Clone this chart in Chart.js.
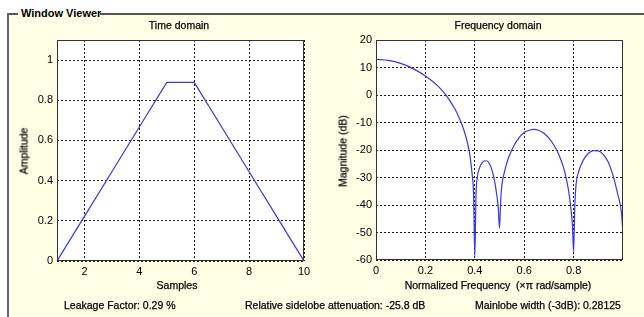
<!DOCTYPE html>
<html>
<head>
<meta charset="utf-8">
<script src="https://cdn.jsdelivr.net/npm/chart.js@4/dist/chart.umd.min.js"></script>
<style>
  html, body { margin: 0; padding: 0; background: #ffffff; }
  body { width: 644px; height: 317px; position: relative; overflow: hidden;
         font-family: "Liberation Sans", Arial, Helvetica, sans-serif; color: #000; }
  #panel { position: absolute; left: 8px; top: 14px; width: 636px; height: 303px; background: #FFFFE6; }
  .hl { position: absolute; background: #555; height: 2px; }
  .vl { position: absolute; background: #666; width: 2px; }
  .t { position: absolute; white-space: pre; font-size: 10.5px; line-height: 13px; -webkit-text-stroke: 0.25px #000; }
  .c { transform: translateX(-50%); }
  .rot { transform: translate(-50%, -50%) rotate(-90deg); }
  canvas { position: absolute; }
</style>
</head>
<body>
<div id="panel"></div>
<div class="hl" style="left:8px; top:13px; width:10px;"></div>
<div class="hl" style="left:100px; top:13px; width:544px;"></div>
<div class="vl" style="left:7px; top:13px; height:304px;"></div>
<div class="t" style="left:21px; top:7px; font-size:11px; font-weight:bold; -webkit-text-stroke:0;">Window Viewer</div>

<canvas id="timeChart" width="320" height="300" style="left:0; top:0;"></canvas>
<canvas id="freqChart" width="324" height="300" style="left:320px; top:0;"></canvas>

<div class="t c" style="left:179px; top:19px;">Time domain</div>
<div class="t c" style="left:498px; top:19px;">Frequency domain</div>
<div class="t c" style="left:177px; top:279px;">Samples</div>
<div class="t c" style="left:498px; top:279px;">Normalized Frequency  (×π rad/sample)</div>
<div class="t rot" style="left:24px; top:151px;">Amplitude</div>
<div class="t rot" style="left:343px; top:151px;">Magnitude (dB)</div>
<div class="t" style="left:64px; top:299px;">Leakage Factor: 0.29 %</div>
<div class="t" style="left:245px; top:299px;">Relative sidelobe attenuation: -25.8 dB</div>
<div class="t" style="left:475px; top:299px;">Mainlobe width (-3dB): 0.28125</div>

<script>
// ---- Data ----
const samples = [1, 2, 3, 4, 5, 6, 7, 8, 9, 10];
const amplitude = [0, 0.222, 0.444, 0.667, 0.889, 0.889, 0.667, 0.444, 0.222, 0];
const timeXTicks = [2, 4, 6, 8, 10];
const timeYTicks = [0, 0.2, 0.4, 0.6, 0.8, 1];

const normFreq = [0, 0.05, 0.1, 0.15, 0.2, 0.25, 0.28, 0.3, 0.32, 0.34, 0.35, 0.36, 0.37, 0.38, 0.39, 0.395, 0.4,
  0.405, 0.41, 0.42, 0.43, 0.44, 0.45, 0.46, 0.47, 0.48, 0.49, 0.495, 0.5,
  0.505, 0.51, 0.52, 0.53, 0.54, 0.56, 0.58, 0.6, 0.62, 0.64, 0.66, 0.68, 0.7, 0.72, 0.74, 0.76, 0.77, 0.78, 0.79, 0.795, 0.8,
  0.805, 0.81, 0.82, 0.83, 0.84, 0.86, 0.88, 0.9, 0.92, 0.94, 0.96, 0.98, 0.99, 0.995, 1.0];
const magnitudeDb = [13.0, 12.6, 11.5, 9.6, 6.9, 3.3, 0.3, -2.2, -5.2, -9.0, -11.3, -14.0, -17.3, -21.8, -29.5, -36, -59,
  -36, -30, -26.3, -24.6, -23.9, -24.0, -25.2, -27.4, -31.2, -37.0, -41, -48.5,
  -38, -32.5, -28.0, -24.6, -22.0, -18.2, -15.4, -13.6, -12.8, -12.5, -12.9, -13.9, -15.7, -18.2, -21.6, -26.6, -30.2, -35.0, -42.0, -47, -57,
  -40, -32.5, -28.0, -25.5, -23.6, -21.2, -20.2, -20.3, -21.6, -24.4, -29.3, -36.5, -40.5, -44, -51];
const freqXTicks = [0, 0.2, 0.4, 0.6, 0.8];
const freqYTicks = [-60, -50, -40, -30, -20, -10, 0, 10, 20];

// ---- Helpers ----
const FONT = { family: '"Liberation Sans", Arial, Helvetica, sans-serif', size: 11 };
const LINE_COLOR = '#3535f5';

const boxPlugin = {
  id: 'box',
  beforeDraw(chart) {
    const a = chart.chartArea, ctx = chart.ctx;
    ctx.save();
    ctx.fillStyle = '#ffffff';
    ctx.fillRect(a.left, a.top, a.right - a.left, a.bottom - a.top);
    ctx.restore();
  },
  afterDraw(chart) {
    const a = chart.chartArea, ctx = chart.ctx;
    ctx.save();
    ctx.strokeStyle = '#333333';
    ctx.lineWidth = 1;
    ctx.setLineDash([]);
    ctx.strokeRect(Math.round(a.left) + 0.5, Math.round(a.top) + 0.5,
                   Math.round(a.right - a.left) - 1, Math.round(a.bottom - a.top) - 1);
    ctx.restore();
  }
};

function fmt(v) { return String(+(+v).toFixed(2)); }

function axis(min, max, ticks, pos, fixedSize) {
  return {
    type: 'linear',
    position: pos,
    min: min, max: max,
    afterBuildTicks(s) { s.ticks = ticks.map(v => ({ value: v })); },
    afterFit(s) { if (pos === 'left') s.width = fixedSize; else s.height = fixedSize; },
    grid: { color: '#1a1a1a', lineWidth: 1, drawTicks: false },
    border: { display: false, dash: [2, 2] },
    ticks: { autoSkip: false, maxRotation: 0, padding: 4, color: '#000000', font: FONT,
             callback: v => fmt(v) }
  };
}

function makeChart(id, xs, ys, xr, yr, xTicks, yTicks, padRight, yWidth, xHeight, monotone) {
  return new Chart(document.getElementById(id), {
    type: 'line',
    data: {
      datasets: [{
        data: xs.map((x, i) => ({ x: x, y: ys[i] })),
        borderColor: LINE_COLOR,
        borderWidth: 1.2,
        pointRadius: 0,
        fill: false,
        tension: monotone ? 0.4 : 0,
        cubicInterpolationMode: monotone ? 'monotone' : 'default'
      }]
    },
    options: {
      responsive: false,
      animation: false,
      devicePixelRatio: 1,
      layout: { padding: { top: 40, right: padRight, left: 0, bottom: 0 } },
      plugins: { legend: { display: false }, tooltip: { enabled: false }, title: { display: false } },
      scales: {
        x: axis(xr[0], xr[1], xTicks, 'bottom', xHeight),
        y: axis(yr[0], yr[1], yTicks, 'left', yWidth)
      }
    },
    plugins: [boxPlugin]
  });
}

makeChart('timeChart', samples, amplitude, [1, 10], [0, 1.1], timeXTicks, timeYTicks, 16, 57, 39, false);
makeChart('freqChart', normFreq, magnitudeDb, [0, 1], [-60, 20], freqXTicks, freqYTicks, 21, 56, 40, true);
</script>
</body>
</html>
